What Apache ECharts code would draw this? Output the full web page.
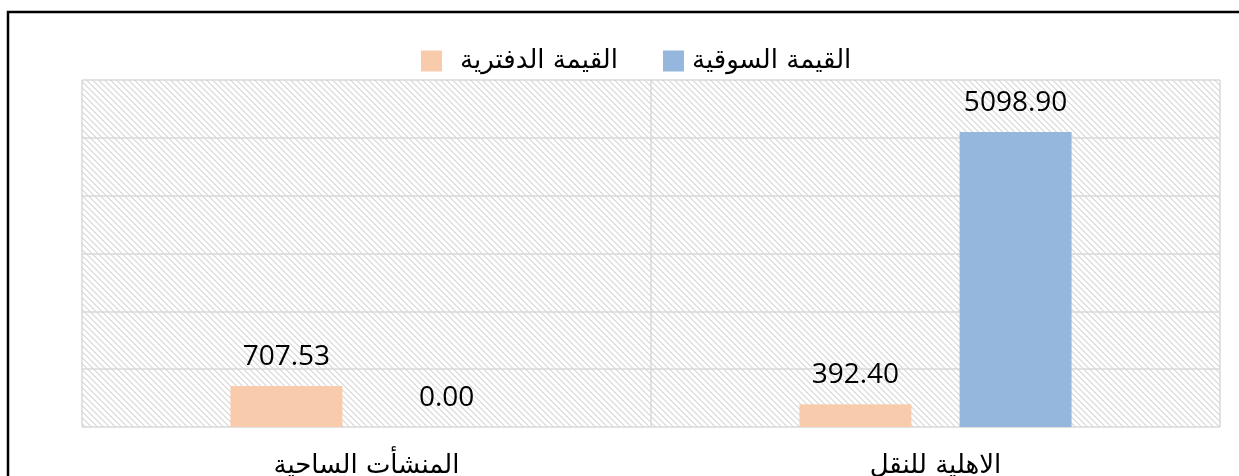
<!DOCTYPE html>
<html>
<head>
<meta charset="utf-8">
<script src="https://cdn.jsdelivr.net/npm/echarts@6/dist/echarts.min.js"></script>
<style>
  html, body { margin: 0; padding: 0; background: #fff; }
  #chart { width: 1239px; height: 476px; }
</style>
</head>
<body>
<div id="chart"></div>
<script>
// categories, right to left as in the original
var categories = ['الاهلية للنقل', 'المنشأت الساحية']
var bookValue = [392.40, 707.53]   // القيمة الدفترية
var marketValue = [5098.90, 0.00]  // القيمة السوقية
var seriesNames = ['القيمة الدفترية', 'القيمة السوقية']

// hatch pattern for the plot area
function makeHatch () {
  var n = 6
  var c = document.createElement('canvas')
  c.width = n
  c.height = n
  var ctx = c.getContext('2d')
  ctx.fillStyle = '#ffffff'
  ctx.fillRect(0, 0, n, n)
  ctx.fillStyle = '#e0e0e0'
  for (var y = 0; y < n; y++) {
    for (var x = 0; x < n; x++) {
      var d = ((x - y) % n + n) % n
      if (d < 2) ctx.fillRect(x, y, 1, 1)
    }
  }
  return c
}

var myChart = echarts.init(document.getElementById('chart'))
var labelStyle = {
  show: true,
  position: 'top',
  distance: 15,
  fontSize: 28,
  fontFamily: 'Open Sans',
  color: '#000',
  formatter: function (p) { return p.value.toFixed(2) }
}
var option = {
  animation: false,
  graphic: [
    {
      type: 'polyline',
      shape: { points: [[8, 480], [8, 12], [1239, 12]] },
      style: { stroke: '#000', lineWidth: 2.5, fill: null }
    }
  ],
  legend: {
    left: 416,
    top: 43,
    itemWidth: 21,
    itemHeight: 21,
    itemGap: 45,
    icon: 'rect',
    textStyle: { fontSize: 26, fontFamily: 'DejaVu Sans', color: '#000' },
    data: [
      { name: seriesNames[0], textStyle: { padding: [0, 0, 0, 13] } },
      { name: seriesNames[1], textStyle: { padding: [0, 0, 0, 3] } }
    ]
  },
  grid: {
    left: 82,
    right: 19,
    top: 80,
    bottom: 49,
    outerBoundsMode: 'none',
    show: true,
    borderWidth: 0,
    backgroundColor: { image: makeHatch(), repeat: 'repeat' }
  },
  xAxis: {
    type: 'category',
    inverse: true,
    data: categories,
    axisLine: { show: false },
    axisTick: { show: false },
    splitLine: { show: true, lineStyle: { color: '#d9d9d9', width: 1.5 } },
    axisLabel: {
      fontSize: 26,
      fontFamily: 'DejaVu Sans',
      color: '#000',
      margin: 26
    }
  },
  yAxis: {
    type: 'value',
    min: 0,
    max: 6000,
    interval: 1000,
    axisLabel: { show: false },
    axisLine: { show: false },
    axisTick: { show: false },
    splitLine: { lineStyle: { color: '#d9d9d9', width: 1.5 } }
  },
  series: [
    {
      name: seriesNames[0],
      type: 'bar',
      barWidth: 112,
      barGap: '43%',
      itemStyle: { color: '#f8cbad' },
      label: labelStyle,
      data: bookValue
    },
    {
      name: seriesNames[1],
      type: 'bar',
      barWidth: 112,
      barGap: '43%',
      itemStyle: { color: '#95b6dd' },
      label: labelStyle,
      data: marketValue
    }
  ]
}
myChart.setOption(option)
</script>
</body>
</html>
